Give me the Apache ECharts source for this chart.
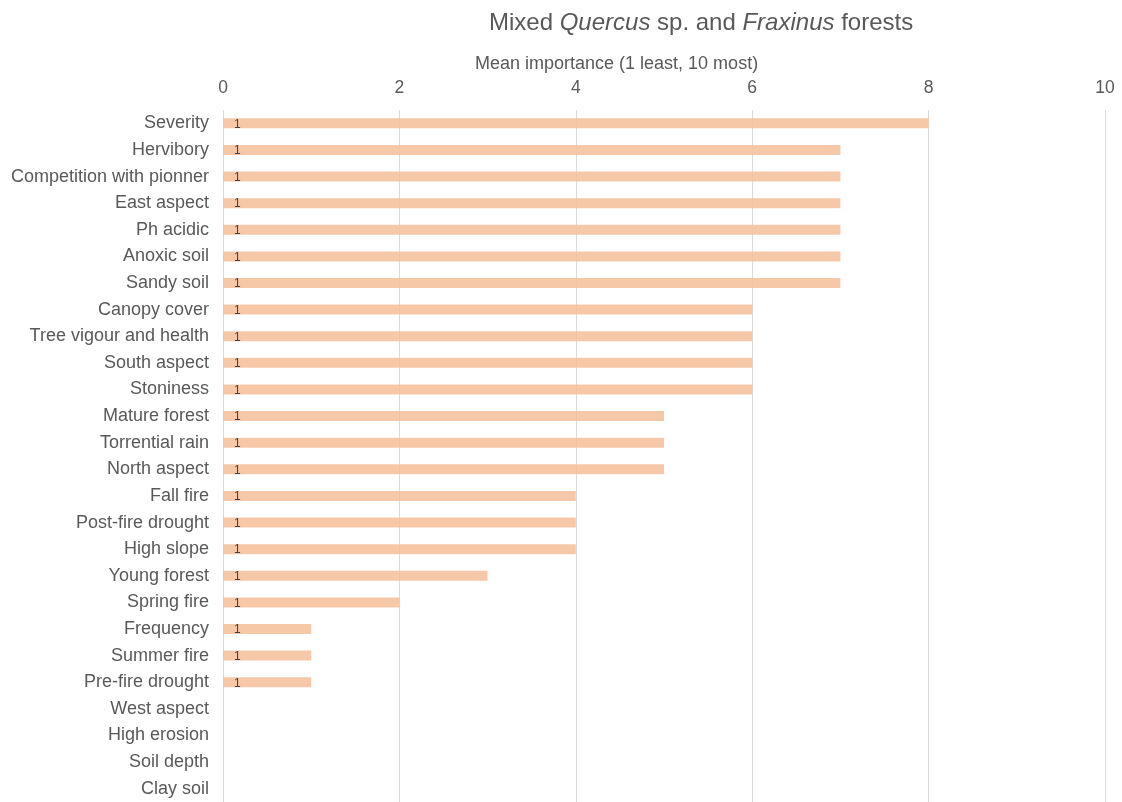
<!DOCTYPE html>
<html>
<head>
<meta charset="utf-8">
<script src="https://cdn.jsdelivr.net/npm/echarts@6/dist/echarts.min.js"></script>
<style>
  html, body { margin: 0; padding: 0; background: #fff; }
  #chart { width: 1122px; height: 802px; }
</style>
</head>
<body>
<div id="chart"></div>
<script>
// Factors, listed top to bottom
const factors = [
  'Severity', 'Hervibory', 'Competition with pionner', 'East aspect', 'Ph acidic',
  'Anoxic soil', 'Sandy soil', 'Canopy cover', 'Tree vigour and health', 'South aspect',
  'Stoniness', 'Mature forest', 'Torrential rain', 'North aspect', 'Fall fire',
  'Post-fire drought', 'High slope', 'Young forest', 'Spring fire', 'Frequency',
  'Summer fire', 'Pre-fire drought', 'West aspect', 'High erosion', 'Soil depth', 'Clay soil'
];
// Mean importance score of each factor
const meanImportance = [
  8, 7, 7, 7, 7, 7, 7, 6, 6, 6, 6, 5, 5, 5, 4, 4, 4, 3, 2, 1, 1, 1, 0, 0, 0, 0
];
// Number of answers behind each score
const answers = [
  1, 1, 1, 1, 1, 1, 1, 1, 1, 1, 1, 1, 1, 1, 1, 1, 1, 1, 1, 1, 1, 1, null, null, null, null
];
const xTicks = [0, 2, 4, 6, 8, 10];

const font = 'Liberation Sans, Arial, sans-serif';
const grey = '#595959';

const chart = echarts.init(document.getElementById('chart'), null, { renderer: 'canvas' });
chart.setOption({
  animation: false,
  backgroundColor: '#ffffff',
  title: [
    {
      text: '{n|Mixed }{i|Quercus}{n| sp. and }{i|Fraxinus}{n| forests}',
      left: 484, top: 6,
      textStyle: {
        rich: {
          n: { fontFamily: font, fontSize: 24, fontWeight: 'normal', color: grey },
          i: { fontFamily: font, fontSize: 24, fontWeight: 'normal', color: grey, fontStyle: 'italic' }
        }
      }
    },
    {
      text: 'Mean importance (1 least, 10 most)',
      left: 470, top: 50,
      textStyle: { fontFamily: font, fontSize: 18, fontWeight: 'normal', color: grey }
    }
  ],
  grid: { left: 223, right: 17, top: 110, height: 694, containLabel: false },
  xAxis: {
    type: 'value',
    position: 'top',
    min: xTicks[0], max: xTicks[xTicks.length - 1], interval: 2,
    axisLine: { show: false },
    axisTick: { show: false },
    axisLabel: { fontFamily: font, fontSize: 17.5, color: grey, margin: 13 },
    splitLine: { show: true, lineStyle: { color: '#d9d9d9', width: 1 } }
  },
  yAxis: {
    type: 'category',
    data: factors,
    inverse: true,
    axisLine: { show: false },
    axisTick: { show: false },
    axisLabel: { fontFamily: font, fontSize: 18, color: grey, margin: 14 },
    splitLine: { show: false }
  },
  series: [
    {
      name: 'Mean importance',
      type: 'bar',
      data: meanImportance,
      barWidth: 10,
      itemStyle: { color: '#f6c09c', opacity: 0.88 },
      z: 2
    },
    {
      name: 'Answers',
      type: 'bar',
      data: answers,
      barWidth: 10,
      barGap: '-100%',
      itemStyle: { color: 'rgba(0,0,0,0)' },
      label: {
        show: true,
        position: 'insideLeft',
        distance: 11,
        fontFamily: font,
        fontSize: 12,
        color: '#404040',
        offset: [0, 1]
      },
      z: 3
    }
  ]
});
</script>
</body>
</html>
